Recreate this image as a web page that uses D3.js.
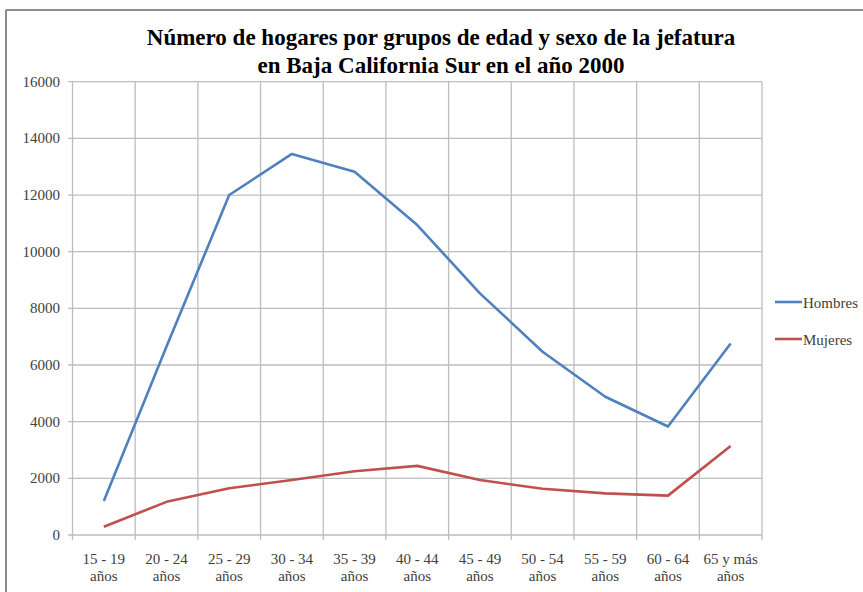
<!DOCTYPE html>
<html>
<head>
<meta charset="utf-8">
<script src="https://cdn.jsdelivr.net/npm/d3@7"></script>
<style>
  body { margin: 0; background: #fff; }
  svg { display: block; font-family: "Liberation Serif", "Times New Roman", serif; }
</style>
</head>
<body>
<svg id="chart" width="863" height="592"></svg>
<script>
var categories = ["15 - 19|años", "20 - 24|años", "25 - 29|años", "30 - 34|años", "35 - 39|años",
  "40 - 44|años", "45 - 49|años", "50 - 54|años", "55 - 59|años", "60 - 64|años", "65 y más|años"];
var hombres = [1200, 6650, 12000, 13450, 12820, 10940, 8530, 6470, 4880, 3830, 6760];
var mujeres = [290, 1170, 1650, 1940, 2250, 2440, 1940, 1630, 1470, 1390, 3140];
var yTicks = [0, 2000, 4000, 6000, 8000, 10000, 12000, 14000, 16000];
var seriesNames = ["Hombres", "Mujeres"];
var seriesColors = ["#4f81bd", "#c0504d"];

var svg = d3.select("#chart");
var plotLeft = 72.5, plotRight = 762, plotTop = 81.7, plotBottom = 535;

// outer frame (only top and left edges visible)
svg.append("line").attr("x1", 6).attr("x2", 863).attr("y1", 10).attr("y2", 10)
  .attr("stroke", "#8c8c8c").attr("stroke-width", 2);
svg.append("line").attr("x1", 6).attr("x2", 6).attr("y1", 10).attr("y2", 592)
  .attr("stroke", "#8c8c8c").attr("stroke-width", 2);

var x = d3.scaleBand().domain(categories).range([plotLeft, plotRight]);
var y = d3.scaleLinear().domain([0, 16000]).range([plotBottom, plotTop]);

var grid = "#bdbdbd";

// horizontal gridlines + y ticks
svg.append("g").selectAll("line").data(yTicks).enter().append("line")
  .attr("x1", plotLeft - 4.5).attr("x2", plotRight)
  .attr("y1", function(d) { return y(d); }).attr("y2", function(d) { return y(d); })
  .attr("stroke", grid).attr("stroke-width", 1.3);

svg.append("g").selectAll("text").data(yTicks).enter().append("text")
  .attr("x", 60).attr("y", function(d) { return y(d) + 5; })
  .attr("text-anchor", "end").attr("font-size", 15).attr("fill", "#404040")
  .text(function(d) { return d; });

// vertical gridlines at category boundaries
var bounds = categories.map(function(c) { return x(c); }).concat([plotRight]);
svg.append("g").selectAll("line").data(bounds).enter().append("line")
  .attr("x1", function(d) { return d; }).attr("x2", function(d) { return d; })
  .attr("y1", plotTop).attr("y2", plotBottom + 5)
  .attr("stroke", grid).attr("stroke-width", 1.3);

// x labels
var xl = svg.append("g").selectAll("text").data(categories).enter().append("text")
  .attr("text-anchor", "middle").attr("font-size", 15).attr("fill", "#404040");
xl.append("tspan")
  .attr("x", function(d) { return x(d) + x.bandwidth() / 2; }).attr("y", 564)
  .text(function(d) { return d.split("|")[0]; });
xl.append("tspan")
  .attr("x", function(d) { return x(d) + x.bandwidth() / 2; }).attr("y", 581)
  .text(function(d) { return d.split("|")[1]; });

// lines
var line = d3.line()
  .x(function(d, i) { return x(categories[i]) + x.bandwidth() / 2; })
  .y(function(d) { return y(d); });

[hombres, mujeres].forEach(function(s, i) {
  svg.append("path").datum(s).attr("d", line)
    .attr("fill", "none").attr("stroke", seriesColors[i])
    .attr("stroke-width", 2.6).attr("stroke-linejoin", "round");
});

// legend
var leg = svg.append("g").selectAll("g").data(seriesNames).enter().append("g")
  .attr("transform", function(d, i) { return "translate(775," + (302 + i * 37) + ")"; });
leg.append("line").attr("x1", 0).attr("x2", 27).attr("y1", 0).attr("y2", 0)
  .attr("stroke", function(d, i) { return seriesColors[i]; }).attr("stroke-width", 2.6);
leg.append("text").attr("x", 28).attr("y", 6).attr("font-size", 15).attr("fill", "#404040")
  .text(function(d) { return d; });

// title
var title = svg.append("text").attr("text-anchor", "middle").attr("font-size", 23)
  .attr("font-weight", "bold").attr("fill", "#000");
title.append("tspan").attr("x", 441).attr("y", 45)
  .text("Número de hogares por grupos de edad y sexo de la jefatura");
title.append("tspan").attr("x", 441).attr("y", 73)
  .text("en Baja California Sur en el año 2000");
</script>
</body>
</html>
